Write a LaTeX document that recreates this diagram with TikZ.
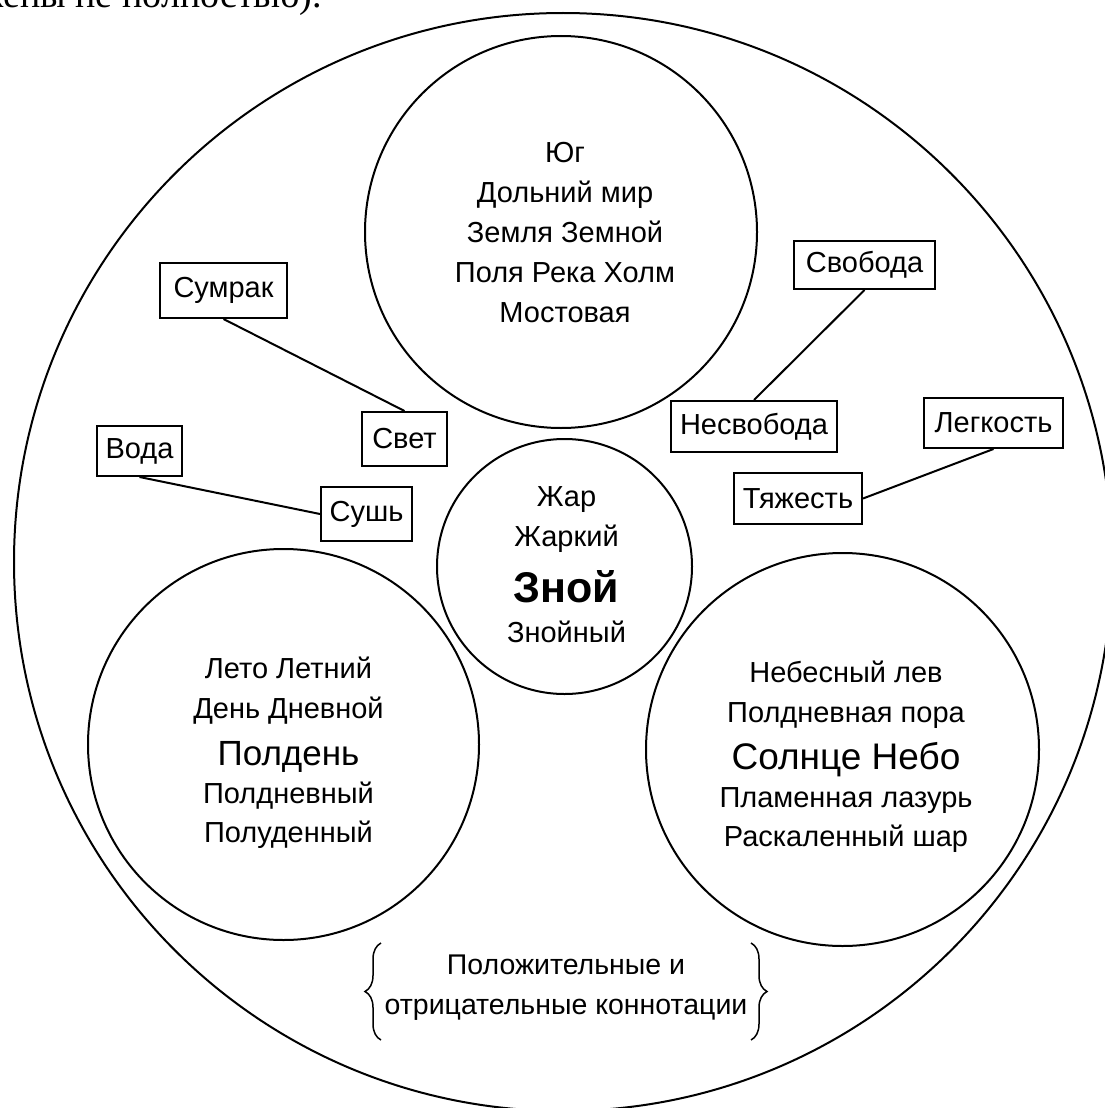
\documentclass[tikz,border=0pt]{standalone}
\usepackage{fontspec}
\setmainfont{Liberation Sans}
\newfontfamily\serifcut{Liberation Serif}
\usetikzlibrary{decorations.pathreplacing}
\begin{document}
\begin{tikzpicture}[x=1pt,y=-1pt,
  ring/.style={draw,circle,line width=2pt,inner sep=0pt},
  word/.style={draw,line width=2pt,inner sep=0pt,font=\fontsize{29}{40}\selectfont},
  link/.style={line width=2pt},
  txt/.style={align=center,inner sep=0pt,font=\fontsize{29}{40}\selectfont},
  brc/.style={decorate,decoration={brace,amplitude=16pt},line width=1.5pt}]
\useasboundingbox (0,0) rectangle (1105,1108);
\clip (0,0) rectangle (1105,1108);
\fill[white] (0,0) rectangle (1105,1108);
\node[inner sep=0pt,anchor=base east,font=\serifcut\fontsize{38}{40}\selectfont] (cut) at (322,8) {(отражены не полностью).};
% circles
\node[ring,minimum size=1098pt] (outer) at (563,562) {};
\node[ring,minimum size=392pt] (top) at (561,232) {};
\node[ring,minimum size=255pt] (mid) at (564.5,566.5) {};
\node[ring,minimum size=391pt] (left) at (283.5,744.5) {};
\node[ring,minimum size=393pt] (right) at (842.5,749.5) {};
% circle texts
\node[txt] (toptext) at (565,232.5) {Юг\\Дольний мир\\Земля Земной\\Поля Река Холм\\Мостовая};
\node[txt] (midtext) at (566.5,565) {Жар\\Жаркий\\[16pt]{\bfseries\fontsize{43}{40}\selectfont Зной}\\Знойный};
\node[txt] (lefttext) at (288.5,753) {Лето Летний\\День Дневной\\[7pt]{\fontsize{35}{40}\selectfont Полдень}\\[-2pt]Полдневный\\[-1pt]Полуденный};
\node[txt] (righttext) at (846,756.5) {Небесный лев\\Полдневная пора\\[7.5pt]{\fontsize{37}{40}\selectfont Солнце Небо}\\[-2.5pt]Пламенная лазурь\\[-1pt]Раскаленный шар};
% word boxes
\node[word,minimum width=127pt,minimum height=55pt] (sumrak) at (223.5,290.5) {Сумрак};
\node[word,minimum width=85pt,minimum height=54pt] (svet) at (404.5,439) {Свет};
\node[word,minimum width=85pt,minimum height=50pt] (voda) at (139.5,451) {Вода};
\node[word,minimum width=91pt,minimum height=54pt] (sush) at (366.5,514) {Сушь};
\node[word,minimum width=141pt,minimum height=48pt] (svoboda) at (864.5,265) {Свобода};
\node[word,minimum width=166pt,minimum height=51pt] (nesvoboda) at (754,426.5) {Несвобода};
\node[word,minimum width=139pt,minimum height=50pt] (legkost) at (993.5,423) {Легкость};
\node[word,minimum width=128pt,minimum height=51pt] (tyazh) at (798,498.5) {Тяжесть};
% connectors
\draw[link] (sumrak.south) -- (svet.north);
\draw[link] (voda.south) -- (sush.west);
\draw[link] (svoboda.south) -- (nesvoboda.north);
\draw[link] (legkost.south) -- (tyazh.east);
% bottom note
\node[txt,font=\fontsize{28.5}{40}\selectfont] (conn) at (566,988) {Положительные и\\отрицательные коннотации};
\coordinate (lbt) at (381,943);
\coordinate (lbb) at (381,1040);
\coordinate (rbt) at (751,943);
\coordinate (rbb) at (751,1040);
\draw[brc] (lbb) -- (lbt);
\draw[brc] (rbt) -- (rbb);
\end{tikzpicture}
\end{document}
